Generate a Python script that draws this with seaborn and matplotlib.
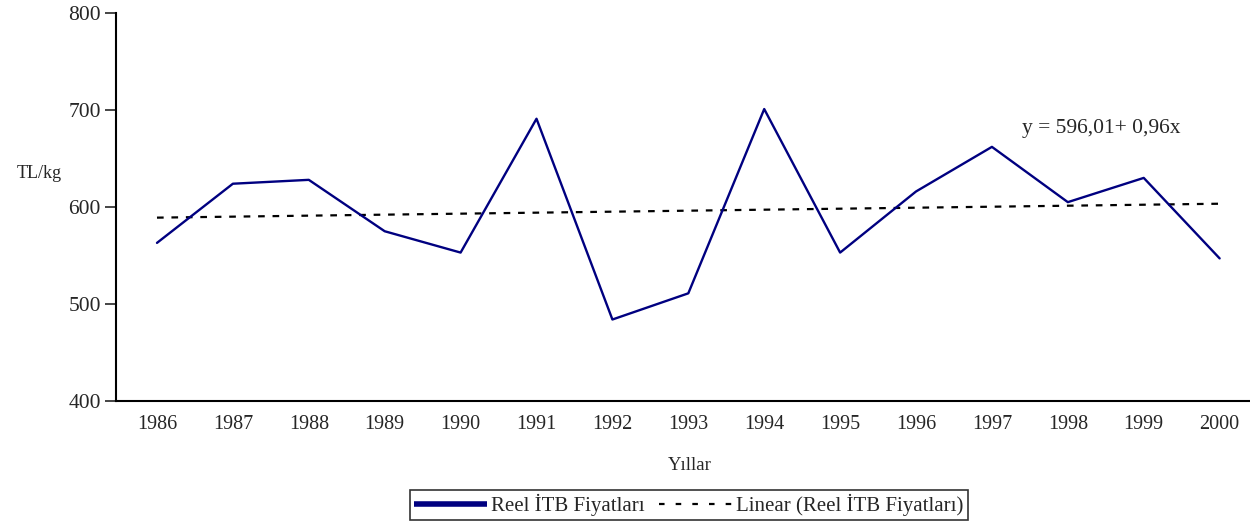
import matplotlib
matplotlib.use("Agg")
import matplotlib.pyplot as plt
from matplotlib.lines import Line2D
import numpy as np
import pandas as pd
import seaborn as sb

years = [1986, 1987, 1988, 1989, 1990, 1991, 1992, 1993, 1994, 1995, 1996, 1997, 1998, 1999, 2000]
prices = [563, 624, 628, 575, 553, 691, 484, 511, 701, 553, 616, 662, 605, 630, 547]

df = pd.DataFrame({"year": years, "price": prices})
# linear trend over index 1..n
idx = np.arange(1, len(years) + 1)
slope, inter = np.polyfit(idx, prices, 1)
df["trend"] = inter + slope * idx

sb.set_style("white")
plt.rcParams["font.family"] = ["Liberation Serif", "DejaVu Serif"]

fig = plt.figure(figsize=(12.5, 5.29), dpi=100)
ax = fig.add_axes([0.0928, 0.242, 0.9072, 0.7334])

sb.lineplot(data=df, x="year", y="trend", color="black", linewidth=1.6, ax=ax,
            linestyle=(0, (3, 3.5)), legend=False)
sb.lineplot(data=df, x="year", y="price", color="#000080", linewidth=1.7, ax=ax,
            legend=False)

ax.set_xlim(1985.46, 2000.4)
ax.set_ylim(400, 800)
ax.set_yticks([400, 500, 600, 700, 800])
ax.set_xticks(years)
ax.set_xticklabels([str(y) for y in years], fontsize=14.5)
ax.tick_params(axis="y", labelsize=15.5, length=8, width=1.2, direction="out", left=True, pad=3)
ax.tick_params(axis="x", length=0, pad=10)
for s in ["top", "right"]:
    ax.spines[s].set_visible(False)
ax.spines["left"].set_color("black")
ax.spines["bottom"].set_color("black")
ax.spines["left"].set_linewidth(1.5)
ax.spines["bottom"].set_linewidth(1.5)
ax.set_xlabel("")
ax.set_ylabel("")

ax.text(1997.4, 681, "y = 596,01+ 0,96x", fontsize=15.5, ha="left", va="center")
fig.text(0.013, 1 - 173 / 529, "TL/kg", fontsize=13, ha="left", va="center")
fig.text(0.552, 1 - 465 / 529, "Yıllar", fontsize=13.5, ha="center", va="center")

handles = [Line2D([], [], color="#000080", linewidth=4, solid_capstyle="butt"),
           Line2D([], [], color="black", linewidth=1.6, linestyle=(0, (2.5, 5)))]
labels = ["Reel İTB Fiyatları", "Linear (Reel İTB Fiyatları)"]
leg = fig.legend(handles, labels, loc="center", bbox_to_anchor=(0.551, 1 - 505 / 529), ncol=2,
                 fontsize=15, frameon=True, fancybox=False, edgecolor="black",
                 handlelength=3.5, handletextpad=0.2, columnspacing=0.7,
                 borderpad=0.2, borderaxespad=0)
leg.get_frame().set_linewidth(1.2)

fig.savefig("out.png", dpi=100)
